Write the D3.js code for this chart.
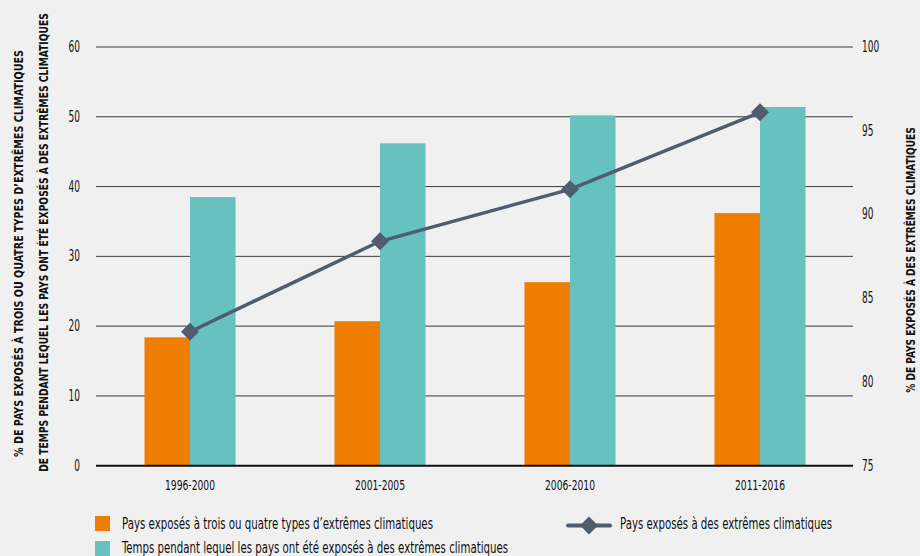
<!DOCTYPE html>
<html><head><meta charset="utf-8">
<script src="https://cdn.jsdelivr.net/npm/d3@7"></script>
<style>
html,body{margin:0;padding:0;background:#f0f0f0;}
svg{display:block;font-family:"DejaVu Sans Condensed","Liberation Sans Narrow","DejaVu Sans",sans-serif;font-stretch:condensed;}
</style></head>
<body><svg id="c" width="920" height="556"></svg>
<script>
const categories = ["1996-2000","2001-2005","2006-2010","2011-2016"];
const threeOrFour = [18.4, 20.7, 26.3, 36.2];
const timeExposed = [38.5, 46.2, 50.2, 51.4];
const countriesExposed = [83.0, 88.4, 91.5, 96.1];
const leftTicks = [0,10,20,30,40,50,60];
const rightTicks = [75,80,85,90,95,100];
const seriesNames = ["Pays exposés à trois ou quatre types d’extrêmes climatiques","Temps pendant lequel les pays ont été exposés à des extrêmes climatiques","Pays exposés à des extrêmes climatiques"];
const colors = ["#ef7d00","#66c1bf","#4f5d6e"];

(function(){
const svg = d3.select("#c");
const pl = 95, pr = 855, pt = 47, pb = 465.7;
const x = d3.scaleBand().domain(categories).range([pl,pr]).paddingInner(0).paddingOuter(0);
const xs = d3.scaleBand().domain([0,1]).range([0, 91]);
const yL = d3.scaleLinear().domain([0,60]).range([pb, pt]);
const yR = d3.scaleLinear().domain([75,100]).range([pb, pt]);
const numW = s => String(s).length * 5.7;

svg.append("g").selectAll("line").data(leftTicks.slice(1)).join("line")
  .attr("x1",96).attr("x2",853).attr("y1",d=>yL(d)).attr("y2",d=>yL(d))
  .attr("stroke","#3a3a3a").attr("stroke-width",1);

svg.append("g").selectAll("text").data(leftTicks).join("text")
  .attr("x",80).attr("y",d=>yL(d)+5).attr("text-anchor","end")
  .attr("font-size",15).attr("fill","#111")
  .attr("textLength",d=>numW(d)).attr("lengthAdjust","spacingAndGlyphs").text(d=>d);
svg.append("g").selectAll("text").data(rightTicks).join("text")
  .attr("x",862).attr("y",d=>yR(d)+5).attr("text-anchor","start")
  .attr("font-size",15).attr("fill","#111")
  .attr("textLength",d=>numW(d)).attr("lengthAdjust","spacingAndGlyphs").text(d=>d);

const cx = c => x(c) + x.bandwidth()/2 - 45.5;
svg.append("g").selectAll("rect").data(categories).join("rect")
  .attr("x",c=>cx(c)+xs(0)).attr("width",xs.bandwidth())
  .attr("y",(c,i)=>yL(threeOrFour[i])).attr("height",(c,i)=>pb-yL(threeOrFour[i]))
  .attr("fill",colors[0]);
svg.append("g").selectAll("rect").data(categories).join("rect")
  .attr("x",c=>cx(c)+xs(1)).attr("width",xs.bandwidth())
  .attr("y",(c,i)=>yL(timeExposed[i])).attr("height",(c,i)=>pb-yL(timeExposed[i]))
  .attr("fill",colors[1]);

svg.append("line").attr("x1",96).attr("x2",853).attr("y1",pb).attr("y2",pb)
  .attr("stroke","#111").attr("stroke-width",2);

svg.append("g").selectAll("text").data(categories).join("text")
  .attr("x",c=>x(c)+x.bandwidth()/2).attr("y",490).attr("text-anchor","middle")
  .attr("font-size",14).attr("fill","#111")
  .attr("textLength",50).attr("lengthAdjust","spacingAndGlyphs").text(c=>c);

const pts = categories.map((c,i)=>[x(c)+x.bandwidth()/2, yR(countriesExposed[i])]);
svg.append("path").attr("d",d3.line()(pts)).attr("fill","none")
  .attr("stroke",colors[2]).attr("stroke-width",3.5);
const diamond = "M0,-9L9,0L0,9L-9,0Z";
svg.append("g").selectAll("path").data(pts).join("path")
  .attr("d",diamond).attr("transform",p=>`translate(${p[0]},${p[1]})`).attr("fill",colors[2]);

const title = (tx,ty,len,str) => {
  const t = svg.append("text").attr("text-anchor","middle").attr("font-weight","bold")
    .attr("font-size",12.5).attr("fill","#111").text(str);
  const w = t.node().getComputedTextLength() || len;
  t.attr("transform",`translate(${tx},${ty}) rotate(-90) scale(${len/w},1)`);
};
title(23,253.5,407,"% DE PAYS EXPOSÉS À TROIS OU QUATRE TYPES D’EXTRÊMES CLIMATIQUES");
title(48,242.5,459,"DE TEMPS PENDANT LEQUEL LES PAYS ONT ÉTÉ EXPOSÉS À DES EXTRÊMES CLIMATIQUES");
title(915,260,266,"% DE PAYS EXPOSÉS À DES EXTRÊMES CLIMATIQUES");

const lg = svg.append("g");
const ltext = (tx,ty,len,str) => lg.append("text").attr("x",tx).attr("y",ty).attr("font-size",15).attr("fill","#111")
  .attr("textLength",len).attr("lengthAdjust","spacingAndGlyphs").text(str);
lg.append("rect").attr("x",95).attr("y",516).attr("width",15).attr("height",15).attr("fill",colors[0]);
ltext(122,529,311,seriesNames[0]);
lg.append("rect").attr("x",95).attr("y",541).attr("width",15).attr("height",15).attr("fill",colors[1]);
ltext(122,553,386,seriesNames[1]);
lg.append("line").attr("x1",568).attr("x2",610).attr("y1",525.5).attr("y2",525.5)
  .attr("stroke",colors[2]).attr("stroke-width",4).attr("stroke-linecap","round");
lg.append("path").attr("d",diamond).attr("transform","translate(589,525.5)").attr("fill",colors[2]);
ltext(620,529,212,seriesNames[2]);
})();
</script></body></html>
